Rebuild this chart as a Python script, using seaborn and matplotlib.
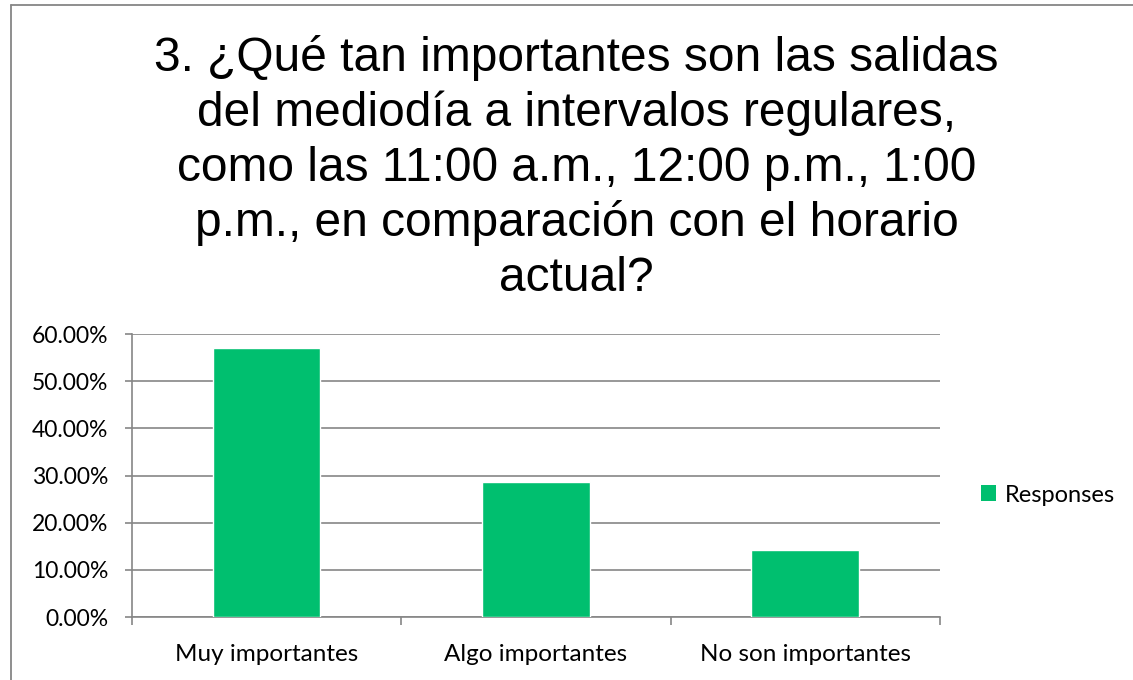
import numpy as np
import pandas as pd
import matplotlib
matplotlib.use('Agg')
import matplotlib.pyplot as plt
import seaborn as sns
from matplotlib.ticker import FuncFormatter, FixedLocator
from matplotlib.patches import Patch
from matplotlib.lines import Line2D

categories = ['Muy importantes', 'Algo importantes', 'No son importantes']
responses = [0.5714, 0.2857, 0.1429]
title = ('3. ¿Qué tan importantes son las salidas\n'
         'del mediodía a intervalos regulares,\n'
         'como las 11:00 a.m., 12:00 p.m., 1:00\n'
         'p.m., en comparación con el horario\n'
         'actual?')

bar_color = '#00BF6F'
grid_color = '#868686'

sns.set_style('white')
plt.rcParams['font.family'] = ['Lato', 'DejaVu Sans']
plt.rcParams['text.color'] = 'black'
plt.rcParams['xtick.color'] = 'black'
plt.rcParams['ytick.color'] = 'black'

df = pd.DataFrame({'category': categories, 'Responses': responses})

fig = plt.figure(figsize=(11.33, 6.8), dpi=100)
ax = fig.add_axes([0.1165, 0.0926, 0.713, 0.4162])

sns.barplot(data=df, x='category', y='Responses', color=bar_color,
            width=0.4, saturation=1, ax=ax, zorder=3)

ax.set_ylim(0, 0.6)
ax.set_xlim(-0.5, 2.5)
ax.yaxis.set_major_locator(FixedLocator(np.arange(0, 0.61, 0.1)))
ax.yaxis.set_major_formatter(FuncFormatter(lambda v, p: f'{v * 100:.2f}%'))
ax.grid(axis='y', color=grid_color, linewidth=1.2, zorder=0)
ax.set_xlabel('')
ax.set_ylabel('')

for s in ['top', 'right']:
    ax.spines[s].set_visible(False)
for s in ['left', 'bottom']:
    ax.spines[s].set_color(grid_color)
    ax.spines[s].set_linewidth(1.2)

ax.tick_params(axis='y', which='major', left=True, length=5, width=1.2,
               color=grid_color, labelcolor='black', labelsize=16.5, pad=12)
ax.tick_params(axis='x', which='major', bottom=False, labelcolor='black',
               labelsize=17.5, pad=16)
ax.xaxis.set_minor_locator(FixedLocator([-0.5, 0.5, 1.5, 2.5]))
ax.tick_params(axis='x', which='minor', bottom=True, length=6, width=1.2,
               color=grid_color)

fig.text(0.509, 0.949, title, ha='center', va='top', fontsize=34.5,
         family=['Liberation Sans', 'DejaVu Sans'], linespacing=1.275,
         color='black')

handle = Patch(facecolor=bar_color, edgecolor='none', label='Responses')
fig.legend(handles=[handle], loc='center left', bbox_to_anchor=(0.847, 0.272),
           frameon=False, fontsize=17, handlelength=0.65, handleheight=0.65,
           handletextpad=0.35)

# chart area border: top and left edges only
fig.add_artist(Line2D([11 / 1133, 1], [1 - 4.5 / 680, 1 - 4.5 / 680],
                      transform=fig.transFigure, color=grid_color, linewidth=1.3))
fig.add_artist(Line2D([11 / 1133, 11 / 1133], [0, 1 - 4.5 / 680],
                      transform=fig.transFigure, color=grid_color, linewidth=1.3))

fig.savefig('out.png', dpi=100)
